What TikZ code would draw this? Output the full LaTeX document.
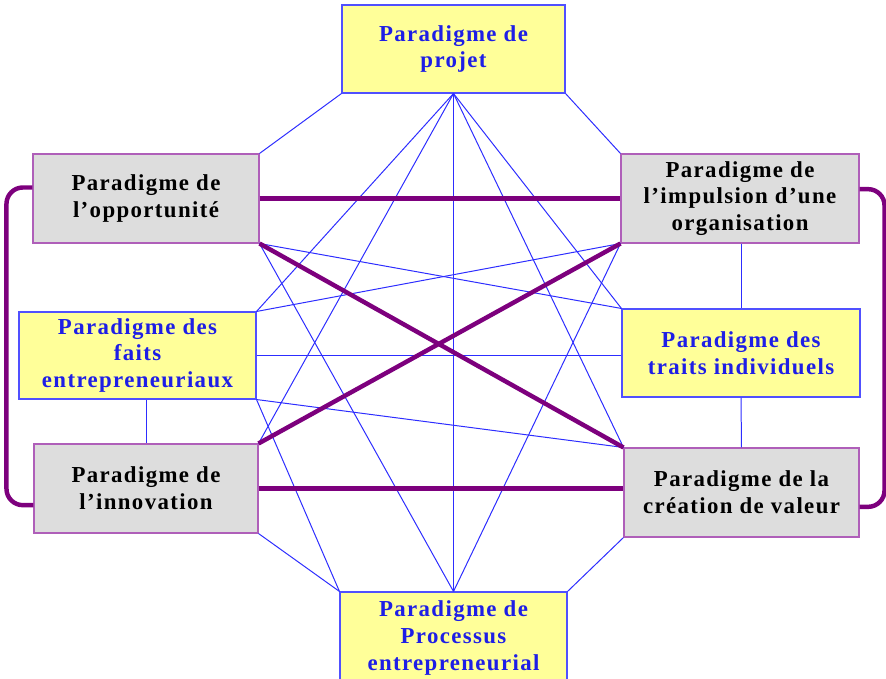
\documentclass[tikz,border=0pt]{standalone}
\usepackage{fontspec}
\setmainfont{Liberation Serif}[LetterSpace=6]
\definecolor{pyel}{RGB}{255,255,153}
\definecolor{pgray}{RGB}{221,221,221}
\definecolor{pblue}{RGB}{80,80,255}
\definecolor{plila}{RGB}{175,95,185}
\definecolor{ptext}{RGB}{30,30,230}
\definecolor{lblue}{RGB}{45,45,255}
\definecolor{dpurp}{RGB}{125,0,125}

\begin{document}
\begin{tikzpicture}[x=0.03cm,y=-0.03cm,
    pbox/.style={draw,align=center,inner sep=0pt,font=\bfseries\fontsize{19.5}{22.8}\selectfont},
    ybox/.style={pbox,fill=pyel,draw=pblue,text=ptext,line width=0.9pt},
    gbox/.style={pbox,fill=pgray,draw=plila,line width=0.9pt},
    link/.style={draw=lblue,line width=0.85pt},
    bond/.style={draw=dpurp,line width=3.8pt}]
  \useasboundingbox (0,0) rectangle (886,679);
  % boxes
  \node[ybox,minimum width=6.69cm,minimum height=2.64cm] (projet) at (453.5,49) {Paradigme de\\projet};
  \node[gbox,minimum width=6.78cm,minimum height=2.67cm] (opport) at (146,198.5) {Paradigme de\\l’opportunité};
  \node[gbox,minimum width=7.14cm,minimum height=2.67cm] (impuls) at (740,198.5) {Paradigme de\\l’impulsion d’une\\organisation};
  \node[ybox,minimum width=7.11cm,minimum height=2.61cm] (faits) at (137.5,355.5) {Paradigme des\\faits\\entrepreneuriaux};
  \node[ybox,minimum width=7.14cm,minimum height=2.64cm] (traits) at (741,353) {Paradigme des\\traits individuels};
  \node[gbox,minimum width=6.72cm,minimum height=2.67cm] (innov) at (146,488.5) {Paradigme de\\l’innovation};
  \node[gbox,minimum width=7.05cm,minimum height=2.67cm] (valeur) at (741.5,492.5) {Paradigme de la\\création de valeur};
  \node[ybox,minimum width=6.81cm,minimum height=2.76cm] (process) at (453.5,638) {Paradigme de\\Processus\\entrepreneurial};
  % thin links
  \draw[link] (projet.south west) -- (opport.north east);
  \draw[link] (projet.south east) -- (impuls.north west);
  \draw[link] (projet.south) -- (faits.north east);
  \draw[link] (projet.south) -- (innov.north east);
  \draw[link] (projet.south) -- (process.north);
  \draw[link] (projet.south) -- (traits.north west);
  \draw[link] (projet.south) -- (valeur.north west);
  \draw[link] (process.north) -- (opport.south east);
  \draw[link] (process.north) -- (impuls.south west);
  \draw[link] (process.north west) -- (faits.south east);
  \draw[link] (process.north west) -- (innov.south east);
  \draw[link] (process.north east) -- (valeur.south west);
  \draw[link] (opport.south east) -- (traits.north west);
  \draw[link] (impuls.south west) -- (faits.north east);
  \draw[link] (faits.east) -- (faits.east -| traits.west);
  \draw[link] (faits.south east) -- (valeur.north west);
  \draw[link] (traits.north |- impuls.south) -- (traits.north);
  \draw[link] (traits.south) -- (valeur.north);
  \draw[link] (innov.north |- faits.south) -- (innov.north);
  % thick links
  \draw[bond] (opport.east) -- (opport.east -| impuls.west);
  \draw[bond] (opport.south east) -- (valeur.north west);
  \draw[bond] (innov.north east) -- (impuls.south west);
  \draw[bond] (innov.east) -- (innov.east -| valeur.west);
  \draw[bond,rounded corners=14pt] ([yshift=0.33cm]opport.west) -- ++(-26,0) |- ([yshift=-0.5cm]innov.west);
  \draw[bond,rounded corners=14pt] ([yshift=0.28cm]impuls.east) -- ++(25,0) |- ([yshift=-0.43cm]valeur.east);
\end{tikzpicture}
\end{document}
